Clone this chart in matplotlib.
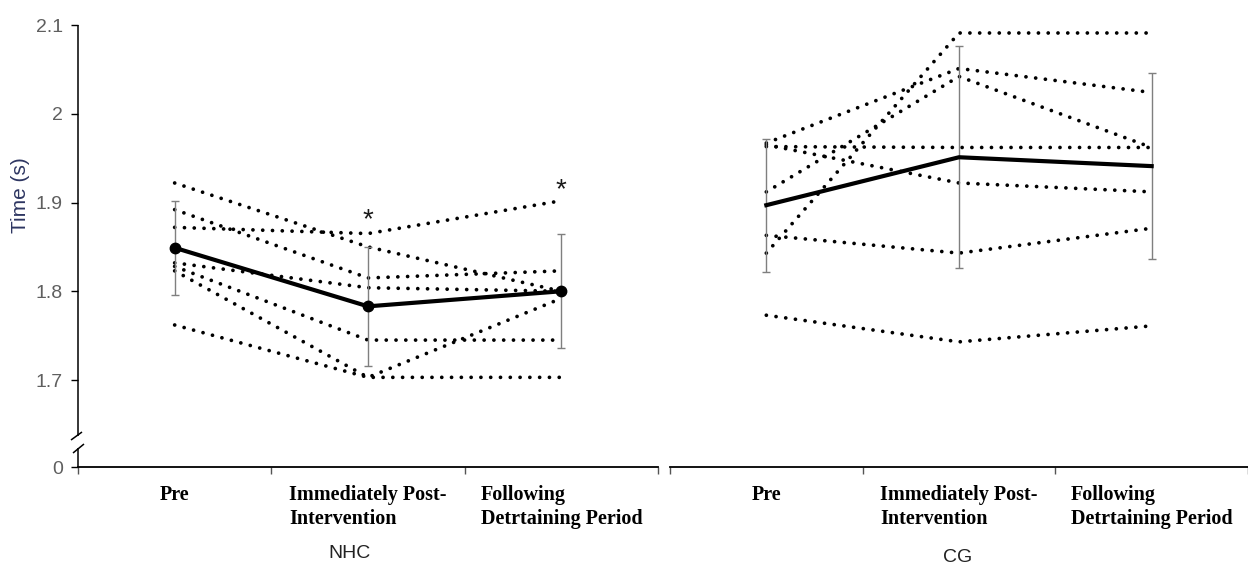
import matplotlib
matplotlib.use("Agg")
import matplotlib.pyplot as plt

# ---------------- data ----------------
conditions = ["Pre", "Immediately Post-\nIntervention", "Following\nDetrtaining Period"]
groups = ["NHC", "CG"]

nhc_individual = [
    [1.922, 1.850, 1.800],
    [1.872, 1.865, 1.902],
    [1.892, 1.815, 1.823],
    [1.832, 1.804, 1.800],
    [1.828, 1.745, 1.745],
    [1.823, 1.703, 1.792],
    [1.762, 1.703, 1.703],
]
nhc_mean = [1.849, 1.783, 1.800]
nhc_sd = [0.053, 0.067, 0.064]
nhc_sig = [None, 1.888, 1.922]   # asterisk centres (s)

cg_individual = [
    [1.967, 2.051, 2.024],
    [1.912, 2.042, 1.962],
    [1.963, 1.962, 1.962],
    [1.965, 1.922, 1.912],
    [1.843, 2.091, 2.091],
    [1.863, 1.843, 1.871],
    [1.773, 1.743, 1.761],
]
cg_mean = [1.897, 1.951, 1.941]
cg_sd = [0.075, 0.125, 0.105]

ytick_vals = [1.602, 1.7, 1.8, 1.9, 2.0, 2.1]
ytick_labels = ["0", "1.7", "1.8", "1.9", "2", "2.1"]
y_range = (1.602, 2.1)

# ---------------- figure ----------------
W, H = 1248, 570
fig = plt.figure(figsize=(W / 100, H / 100), dpi=100)
bottom = 1 - 467 / H
height = 442 / H
ax1 = fig.add_axes([78 / W, bottom, 580 / W, height])
ax2 = fig.add_axes([670 / W, bottom, 578 / W, height])

xpos = [0.5, 1.5, 2.5]
tick_font = dict(family="Liberation Serif", weight="bold", size=14.5)


def draw_panel(ax, indiv, mean, sd, markers):
    for subj in indiv:
        ax.plot(xpos, subj, color="black", lw=2.7, linestyle=(0, (0.01, 2.6)),
                dash_capstyle="round", solid_capstyle="round", zorder=2, clip_on=False)
    ax.errorbar(xpos, mean, yerr=sd, fmt="none", ecolor="#7f7f7f", elinewidth=1.0,
                capsize=3.2, capthick=1.0, zorder=3)
    ax.plot(xpos, mean, color="black", lw=3.0, zorder=4,
            marker="o" if markers else None, markersize=7.5)
    ax.set_xlim(0, 3)
    ax.set_ylim(*y_range)
    ax.set_xticks([0, 1, 2, 3])
    ax.set_xticklabels([])
    ax.set_xticks(xpos, minor=True)
    ax.set_xticklabels(conditions, minor=True, fontdict=tick_font, ha="center",
                       multialignment="left", linespacing=1.25)
    ax.tick_params(axis="x", which="major", direction="out", length=5, width=1.0,
                   color="#555555")
    ax.tick_params(axis="x", which="minor", length=0, pad=13)
    for s in ["top", "right"]:
        ax.spines[s].set_visible(False)
    ax.spines["bottom"].set_linewidth(1.3)


draw_panel(ax1, nhc_individual, nhc_mean, nhc_sd, True)
draw_panel(ax2, cg_individual, cg_mean, cg_sd, False)

# asterisks
for x, v in zip(xpos, nhc_sig):
    if v is not None:
        ax1.annotate("*", (x, v), xytext=(0, -10), textcoords="offset points",
                     ha="center", va="baseline", fontsize=20,
                     family="Liberation Sans", color="#1a1a1a")

# y axis on left panel with break
ax1.spines["left"].set_visible(False)
ax1.set_yticks(ytick_vals)
ax1.set_yticklabels(ytick_labels, family="Liberation Sans", fontsize=14, color="#5f5f5f")
ax1.tick_params(axis="y", direction="out", length=5, width=1.0, pad=6)


def px2ax(xp, yp):
    return (xp - 78) / 580, (467 - yp) / 442


for (x0, y0), (x1, y1) in [((78, 25), (78, 436)), ((78, 448), (78, 467)),
                           ((71, 440), (82, 432)), ((73, 453), (84, 444))]:
    a0 = px2ax(x0, y0)
    a1 = px2ax(x1, y1)
    ax1.plot([a0[0], a1[0]], [a0[1], a1[1]], transform=ax1.transAxes,
             color="black", lw=1.1, clip_on=False, solid_capstyle="butt")

# right panel: no y axis
ax2.spines["left"].set_visible(False)
ax2.set_yticks([])

# labels
fig.text(20 / W, 1 - 195 / H, "Time (s)", rotation=90, ha="center", va="center",
         family="Liberation Sans", fontsize=15, color="#2d3561")
fig.text(350 / W, 1 - 553 / H, groups[0], ha="center", va="center",
         family="Liberation Sans", fontsize=14, color="#222222")
fig.text(958 / W, 1 - 557 / H, groups[1], ha="center", va="center",
         family="Liberation Sans", fontsize=14, color="#222222")

fig.savefig("out.png", dpi=100)
